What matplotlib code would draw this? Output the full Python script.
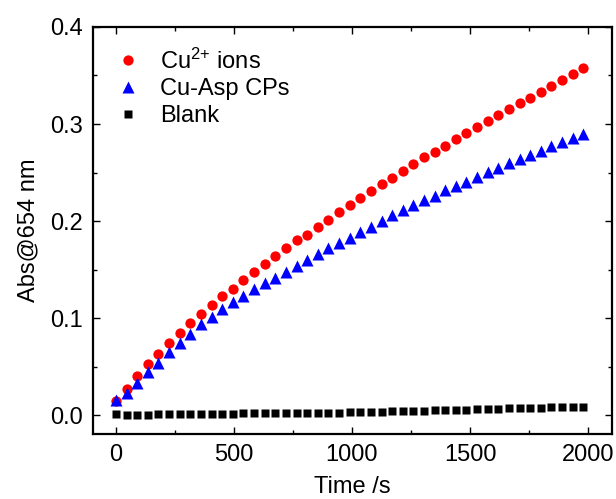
import matplotlib
matplotlib.use("Agg")
import matplotlib.pyplot as plt
import numpy as np

plt.rcParams['font.family'] = ['Liberation Sans', 'DejaVu Sans']
plt.rcParams['mathtext.fontset'] = 'custom'
plt.rcParams['mathtext.rm'] = 'Liberation Sans'
plt.rcParams['mathtext.it'] = 'Liberation Sans:italic'
plt.rcParams['mathtext.bf'] = 'Liberation Sans:bold'

time_s = np.arange(0, 1981, 45)

cu_ions = [0.0147, 0.0267, 0.0408, 0.0528, 0.0635, 0.0748, 0.0847, 0.0947, 0.1039, 0.1139,
           0.1224, 0.1303, 0.1396, 0.1474, 0.1553, 0.1636, 0.1725, 0.1800, 0.1860, 0.1944,
           0.2016, 0.2095, 0.2167, 0.2233, 0.2305, 0.2387, 0.2442, 0.2514, 0.2586, 0.2658,
           0.2709, 0.2774, 0.2846, 0.2905, 0.2966, 0.3035, 0.3093, 0.3151, 0.3213, 0.3272,
           0.3333, 0.3391, 0.3453, 0.3515, 0.3573]

cu_asp = [0.0154, 0.0233, 0.0336, 0.0446, 0.0542, 0.0648, 0.0741, 0.0833, 0.0936, 0.1012,
          0.1097, 0.1166, 0.1228, 0.1303, 0.1361, 0.1416, 0.1474, 0.1540, 0.1595, 0.1656,
          0.1718, 0.1773, 0.1828, 0.1886, 0.1938, 0.1999, 0.2065, 0.2116, 0.2164, 0.2212,
          0.2263, 0.2315, 0.2366, 0.2407, 0.2452, 0.2503, 0.2545, 0.2596, 0.2637, 0.2685,
          0.2726, 0.2778, 0.2819, 0.2857, 0.2898]

blank = [0.0010, 0.0003, 0.0003, 0.0003, 0.0013, 0.0013, 0.0013, 0.0013, 0.0013, 0.0013,
         0.0013, 0.0013, 0.0020, 0.0020, 0.0020, 0.0020, 0.0027, 0.0027, 0.0027, 0.0027,
         0.0027, 0.0027, 0.0036, 0.0038, 0.0038, 0.0038, 0.0048, 0.0048, 0.0048, 0.0048,
         0.0058, 0.0058, 0.0058, 0.0058, 0.0065, 0.0065, 0.0065, 0.0079, 0.0079, 0.0079,
         0.0079, 0.0089, 0.0089, 0.0089, 0.0089]

labels = ['Cu$\\mathregular{^{2{+}}}$ ions', 'Cu-Asp CPs', 'Blank']

fig = plt.figure(figsize=(6.16, 4.99), dpi=100)
ax = fig.add_axes([0.151, 0.130, 0.842, 0.816])

fs = 17
ax.plot(time_s, cu_ions, 'o', color='#ff0000', ms=7.4, mec='none', label=labels[0])
ax.plot(time_s, cu_asp, '^', color='#0000ff', ms=8.2, mec='none', label=labels[1])
ax.plot(time_s, blank, 's', color='black', ms=6.0, mec='none', label=labels[2])

ax.set_xlim(-97, 2100)
ax.set_ylim(-0.0195, 0.4)
ax.set_xticks([0, 500, 1000, 1500, 2000])
ax.set_xticks([250, 750, 1250, 1750], minor=True)
ax.set_yticks([0.0, 0.1, 0.2, 0.3, 0.4])
ax.set_yticks([0.05, 0.15, 0.25, 0.35], minor=True)
ax.set_yticklabels(['0.0', '0.1', '0.2', '0.3', '0.4'])

ax.tick_params(which='both', direction='in', top=True, right=True, labelsize=fs, width=1.0)
ax.tick_params(which='major', length=5)
ax.tick_params(which='minor', length=3)
ax.tick_params(axis='x', pad=7)
ax.tick_params(axis='y', pad=7)
for s in ax.spines.values():
    s.set_linewidth(1.6)

ax.set_xlabel('Time /s', fontsize=fs, labelpad=7)
ax.set_ylabel('Abs@654 nm', fontsize=fs, labelpad=8)

leg = ax.legend(loc='upper left', bbox_to_anchor=(0.044, 0.947), frameon=False,
                fontsize=fs, handlelength=1.0, handletextpad=0.88, labelspacing=0.2,
                borderpad=0, borderaxespad=0, numpoints=1)

fig.savefig('out.png', dpi=100)
